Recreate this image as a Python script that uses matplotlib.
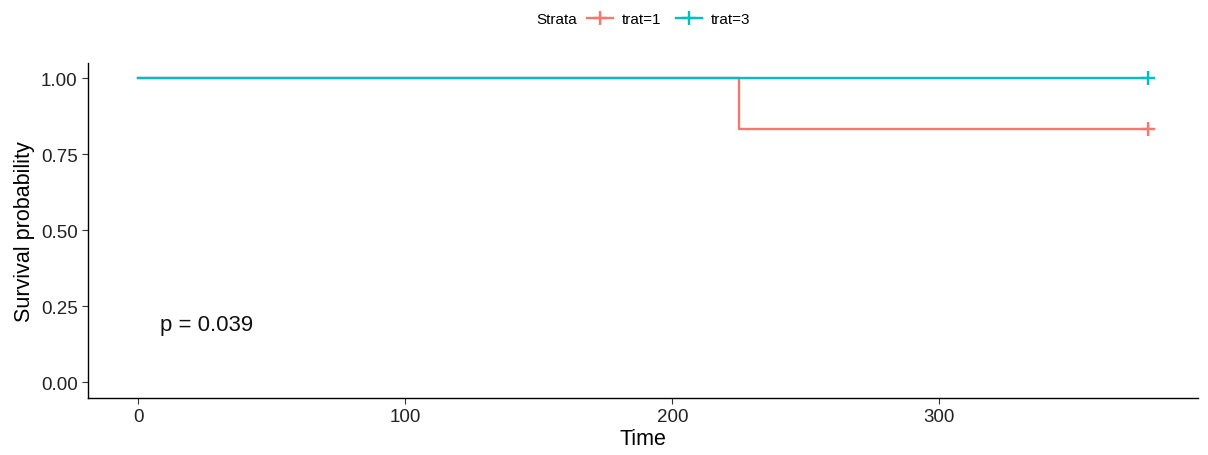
import matplotlib
matplotlib.use("Agg")
import matplotlib.pyplot as plt
from matplotlib.lines import Line2D

strata = ["trat=1", "trat=3"]
colors = ["#F8766D", "#00BFC4"]
times = [[0, 225, 378], [0, 378]]
surv = [[1.0, 0.8333, 0.8333], [1.0, 1.0]]
censor_t = [[378], [378]]
censor_s = [[0.8333], [1.0]]
p_text = "p = 0.039"
xticks = [0, 100, 200, 300]
yticks = [0.00, 0.25, 0.50, 0.75, 1.00]

plt.rcParams['font.family'] = ['Liberation Sans', 'DejaVu Sans']
fig = plt.figure(figsize=(12.08, 4.56), dpi=100)
ax = fig.add_axes([88/1208, (456-398.5)/456, (1198-88)/1208, (398.5-64)/456])

for t, s, ct, cs, c in zip(times, surv, censor_t, censor_s, colors):
    ax.step(t, s, where="post", color=c, lw=1.7)
    ax.plot(ct, cs, marker="+", ls="none", color=c, ms=10, mew=1.7)

ax.set_xlim(-18.9, 396.9)
ax.set_ylim(-0.05, 1.05)
ax.set_xticks(xticks)
ax.set_yticks(yticks)
ax.set_yticklabels([f"{v:.2f}" for v in yticks])
ax.tick_params(labelsize=13.5, length=4, color="#333333", labelcolor="#222222")
for sp in ["top", "right"]:
    ax.spines[sp].set_visible(False)
for sp in ["left", "bottom"]:
    ax.spines[sp].set_linewidth(1.0)
ax.set_xlabel("Time", fontsize=15.5, labelpad=2)
ax.set_ylabel("Survival probability", fontsize=15.5, labelpad=4)
ax.text(8, 0.19, p_text, fontsize=16, va="center", ha="left", color="#111111")

fig.text(536/1208, 1 - 20/456, "Strata", fontsize=11, ha="left", va="center")
handles = [Line2D([0], [0], color=c, lw=1.7, marker="+", ms=10, mew=1.7) for c in colors]
fig.legend(handles, strata, loc="center left", bbox_to_anchor=(587/1208, 1 - 20/456), ncol=2,
           frameon=False, fontsize=11, handlelength=1.7, columnspacing=1.0,
           handletextpad=0.55, borderpad=0, borderaxespad=0)
fig.savefig("out.png", dpi=100)
